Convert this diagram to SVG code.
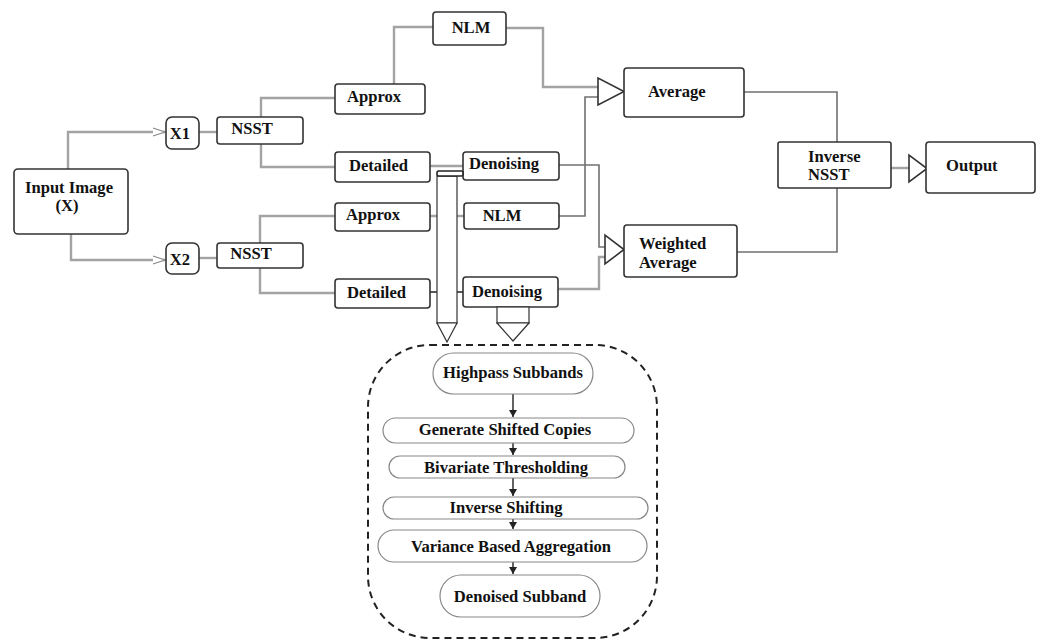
<svg xmlns="http://www.w3.org/2000/svg" width="1040" height="641" viewBox="0 0 1040 641">
<style>
.box{fill:#fff;stroke:#333;stroke-width:1.6}
.pill{fill:#fff;stroke:#888;stroke-width:1.2}
.t{font-family:"Liberation Serif","Times New Roman",serif;font-weight:bold;font-size:16.6px;fill:#111}
.m{text-anchor:middle}
.c{fill:none;stroke:#a3a3a3;stroke-width:2.4}
.d{fill:none;stroke:#707070;stroke-width:1.6}
.k{fill:none;stroke:#222;stroke-width:1.4}
.tri{fill:#fff;stroke:#333;stroke-width:1.6}
.dash{fill:none;stroke:#222;stroke-width:2;stroke-dasharray:7 5}
</style>
<defs>
<marker id="open" markerWidth="14" markerHeight="10" refX="13" refY="5" orient="auto" markerUnits="userSpaceOnUse">
<path d="M1,1 L13,5 L1,9" fill="#fff" stroke="#888" stroke-width="1.2"/>
</marker>
<marker id="blk" markerWidth="8" markerHeight="8" refX="7" refY="4" orient="auto" markerUnits="userSpaceOnUse">
<path d="M0,0 L7,4 L0,8 Z" fill="#222"/>
</marker>
</defs>
<rect width="1040" height="641" fill="#fff"/>

<g id="connectors">
<path class="c" d="M68,169 V132 H165" marker-end="url(#open)"/>
<path class="c" d="M71,234 V260 H165" marker-end="url(#open)"/>
<path class="c" d="M199,132 H217"/>
<path class="c" d="M199,258 H217"/>
<path class="c" d="M261,117 V98 H335"/>
<path class="c" d="M261,144 V167 H335"/>
<path class="c" d="M260,243 V216 H335"/>
<path class="c" d="M260,268 V293 H335"/>
<path class="c" d="M394,84 V27 H433"/>
<path class="c" d="M506,28 H543 V87 H598"/>
<path class="d" d="M559,216 H585 V97 H598"/>
<path class="d" d="M559,165 H599 V247 H605"/>
<path class="c" d="M558,289 H599 V257 H605"/>
<path class="c" d="M430,166 H463"/>
<path class="d" d="M744,92 H837 V142"/>
<path class="d" d="M737,252 H837 V188"/>
<path class="c" d="M891,168 H909"/>
<path class="c" d="M430,216 H437 M457,216 H464" stroke-width="1.4"/>
<path class="k" d="M430,292 H442 M452,292 H463"/>
<path class="k" d="M513,394 V417" marker-end="url(#blk)"/>
<path class="k" d="M513,443 V455" marker-end="url(#blk)"/>
<path class="k" d="M513,478 V496" marker-end="url(#blk)"/>
<path class="k" d="M513,519 V529" marker-end="url(#blk)"/>
<path class="k" d="M513,562 V574" marker-end="url(#blk)"/>
</g>

<g id="input"><rect class="box" x="14" y="169" width="114" height="65" rx="4"/>
<text class="t m" x="69" y="193">Input Image</text><text class="t m" x="67" y="211">(X)</text></g>
<g id="x1"><rect class="box" x="166" y="117" width="33" height="32" rx="6"/><text class="t m" x="180" y="139">X1</text></g>
<g id="x2"><rect class="box" x="166" y="243" width="33" height="31" rx="6"/><text class="t m" x="180" y="265">X2</text></g>
<g id="nsst1"><rect class="box" x="217" y="117" width="86" height="27" rx="3"/><text class="t m" x="252" y="134">NSST</text></g>
<g id="nsst2"><rect class="box" x="217" y="243" width="86" height="25" rx="3"/><text class="t m" x="251" y="259">NSST</text></g>
<g id="approx1"><rect class="box" x="335" y="84" width="90" height="30" rx="3"/><text class="t" x="347" y="102">Approx</text></g>
<g id="detailed1"><rect class="box" x="335" y="152" width="95" height="30" rx="3"/><text class="t" x="349" y="171">Detailed</text></g>
<g id="approx2"><rect class="box" x="335" y="203" width="95" height="28" rx="3"/><text class="t" x="346" y="220">Approx</text></g>
<g id="detailed2"><rect class="box" x="335" y="279" width="95" height="29" rx="3"/><text class="t" x="347" y="298">Detailed</text></g>
<g id="nlm1"><rect class="box" x="433" y="12" width="73" height="33" rx="3"/><text class="t m" x="471" y="33">NLM</text></g>
<g id="denoising1"><rect class="box" x="463" y="152" width="96" height="28" rx="3"/><text class="t" x="469" y="169">Denoising</text></g>
<g id="nlm2"><rect class="box" x="464" y="203" width="95" height="26" rx="3"/><text class="t m" x="502" y="221">NLM</text></g>
<g id="denoising2"><rect class="box" x="463" y="277" width="95" height="30" rx="3"/><text class="t" x="472" y="297">Denoising</text></g>

<g id="pencil">
<rect x="437" y="176" width="20" height="147" fill="#fff" stroke="#333" stroke-width="1.2"/>
<rect x="437" y="171" width="26" height="5" rx="1.5" fill="#fff" stroke="#222" stroke-width="1.6"/>
<path d="M437,323 L457,323 L447,342 Z" fill="#fff" stroke="#333" stroke-width="1.2"/>
</g>
<g id="arrow2">
<rect x="497" y="307" width="32" height="16" fill="#fff" stroke="#333" stroke-width="1.2"/>
<path d="M497,323 L529,323 L513,341 Z" fill="#fff" stroke="#333" stroke-width="1.2"/>
</g>

<g id="tri1"><path class="tri" d="M598,78 L598,105 L624,91.5 Z"/></g>
<g id="tri2"><path class="tri" d="M605,235 L605,264 L624,249.5 Z"/></g>
<g id="tri3"><path class="tri" d="M909,155 L909,182 L927,168.5 Z"/></g>

<g id="average"><rect class="box" x="624" y="68" width="120" height="49" rx="3"/><text class="t" x="648" y="97">Average</text></g>
<g id="weighted"><rect class="box" x="624" y="225" width="113" height="52" rx="3"/><text class="t" x="639" y="249">Weighted</text><text class="t" x="639" y="268">Average</text></g>
<g id="inverse"><rect class="box" x="778" y="142" width="113" height="46" rx="2" stroke="#555"/><text class="t" x="808" y="162">Inverse</text><text class="t" x="808" y="180">NSST</text></g>
<g id="output"><rect class="box" x="926" y="142" width="109" height="51" rx="3"/><text class="t" x="946" y="171">Output</text></g>

<g id="detail-region">
<rect class="dash" x="368" y="345" width="289" height="293" rx="62"/>
</g>
<g id="highpass"><rect class="pill" x="433" y="353" width="160" height="41" rx="20.5"/><text class="t m" x="513" y="378">Highpass Subbands</text></g>
<g id="generate"><rect class="pill" x="383" y="418" width="251" height="25" rx="12.5"/><text class="t m" x="505" y="435">Generate Shifted Copies</text></g>
<g id="bivariate"><rect class="pill" x="389" y="456" width="236" height="22" rx="11"/><text class="t m" x="506" y="473">Bivariate Thresholding</text></g>
<g id="invshift"><rect class="pill" x="383" y="497" width="265" height="22" rx="11"/><text class="t m" x="506" y="513">Inverse Shifting</text></g>
<g id="variance"><rect class="pill" x="378" y="530" width="269" height="32" rx="16"/><text class="t m" x="511" y="552">Variance Based Aggregation</text></g>
<g id="denoised"><rect class="pill" x="440" y="575" width="160" height="42" rx="21"/><text class="t m" x="520" y="602">Denoised Subband</text></g>
</svg>
